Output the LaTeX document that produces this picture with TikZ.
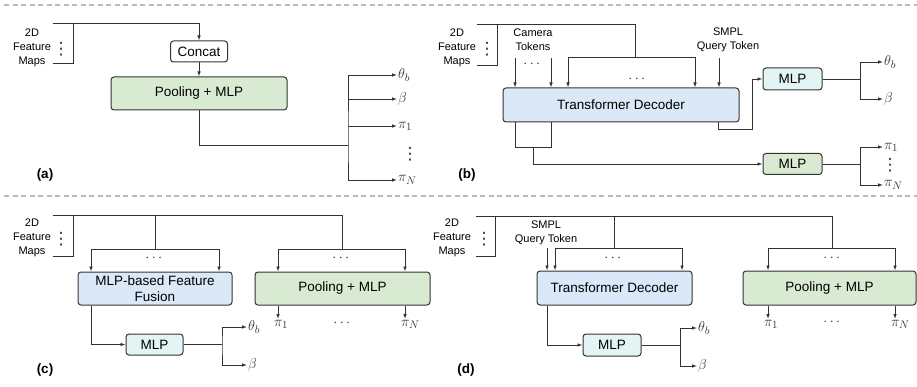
\documentclass[tikz,border=0pt]{standalone}
\usepackage{fontspec}
\setmainfont{Liberation Sans}
\newfontfamily\dotsfont{DejaVu Sans}
\usepackage{amsmath, amssymb}
\usetikzlibrary{arrows.meta,positioning}

\definecolor{linec}{HTML}{333333}
\definecolor{poolfill}{HTML}{D9EAD3}
\definecolor{decfill}{HTML}{DAE8F8}
\definecolor{mlpfill}{HTML}{E2F4F4}
\definecolor{sepc}{HTML}{BBBBBB}

\tikzset{
  wire/.style={draw=linec, line width=0.9pt},
  arr/.style={wire, -{Latex[length=5pt,width=3.6pt]}},
  arrtwo/.style={wire, {Latex[length=5pt,width=3.6pt]}-{Latex[length=5pt,width=3.6pt]}},
  blk/.style={draw=linec, line width=1pt, rounded corners=3pt, inner sep=0pt,
    align=center, font=\fontsize{13.5}{16}\selectfont},
  poolblk/.style={blk, fill=poolfill},
  decblk/.style={blk, fill=decfill},
  mlpblk/.style={blk, fill=mlpfill},
  small/.style={align=center, inner sep=0pt, font=\fontsize{11}{14}\selectfont},
  sym/.style={inner sep=1pt, font=\fontsize{15}{18}\selectfont, text=linec},
  hdot/.style={inner sep=0pt, font=\fontsize{14}{14}\selectfont, text=linec},
  vdot/.style={inner sep=0pt, font=\dotsfont\fontsize{17}{17}\selectfont, text=linec},
  tag/.style={inner sep=0pt, font=\fontsize{13.5}{16}\selectfont\bfseries},
  sep/.style={draw=sepc, line width=1.2pt, dash pattern=on 5pt off 3.5pt},
}

\begin{document}
\begin{tikzpicture}[x=1pt,y=-1pt]
    \useasboundingbox (0,0) rectangle (917,387);
    \draw[sep] (4,5) -- (917,5);
    \draw[sep] (4,196) -- (917,196);

    % (a) Concat + pooling
    % ---------------------
    \node[small] (fm-a) at (32,48) {2D\\Feature\\Maps};
    \node[vdot] at (61,49) {⋮};
    \coordinate (a-in) at (53,23);
    \coordinate (a-end) at (53,63);
    \draw[wire] (a-end) -- (73,63) -- (73,23);
    \node[blk, fill=white, minimum width=57, minimum height=21] (concat) at (199,51.5) {Concat};
    \node[poolblk, minimum width=176, minimum height=33] (pool-a) at (199,93.5) {Pooling + MLP};
    \draw[arr] (a-in) -| (concat);
    \draw[arr] (concat) -- (pool-a);
    \node[sym, anchor=west] (a-th) at (397,75) {$\theta_b$};
    \node[sym, anchor=west] (a-be) at (397,99) {$\beta$};
    \node[sym, anchor=west] (a-p1) at (397,126) {$\pi_1$};
    \node[vdot] at (410,154) {⋮};
    \node[sym, anchor=west] (a-pN) at (397,180) {$\pi_N$};
    \coordinate (a-split) at (348,145);
    \draw[wire] (pool-a) |- (a-split);
    \draw[arrtwo] (a-th) -| (a-split) |- (a-pN);
    \draw[arr] (a-split |- a-be) -- (a-be);
    \draw[arr] (a-split |- a-p1) -- (a-p1);
    \node[tag] at (45,175) {(a)};

    % (b) Transformer decoder with camera tokens
    % ---------------------
    \node[small] (fm-b) at (457,48) {2D\\Feature\\Maps};
    \node[vdot] at (487,49) {⋮};
    \coordinate (b-in) at (477,24);
    \coordinate (b-end) at (477,65);
    \draw[wire] (b-end) -- (497,65) -- (497,24);
    \node[decblk, minimum width=236, minimum height=34] (dec-b) at (621,105) {Transformer Decoder};
    \coordinate (b-m) at (635,57);
    \coordinate (b-l1) at (568,57);
    \coordinate (b-l2) at (695,57);
    \draw[wire] (b-in) -| (b-m);
    \draw[arrtwo] (b-l1 |- dec-b.north) -- (b-l1) -- (b-l2) -- (b-l2 |- dec-b.north);
    \node[hdot] at (638,79) {$\cdots$};
    \node[small] (cam-b) at (533,40) {Camera\\Tokens};
    \coordinate (b-c1) at (515,58);
    \coordinate (b-c2) at (551,58);
    \draw[arr] (b-c1) -- (b-c1 |- dec-b.north);
    \draw[arr] (b-c2) -- (b-c2 |- dec-b.north);
    \node[hdot] at (533,64) {$\cdots$};
    \node[small] (smpl-b) at (728,40) {SMPL\\Query Token};
    \coordinate (b-q) at (719,58);
    \draw[arr] (b-q) -- (b-q |- dec-b.north);
    % outputs
    \node[mlpblk, minimum width=59, minimum height=22] (mlp-b1) at (792.5,79) {MLP};
    \node[poolblk, minimum width=59, minimum height=21] (mlp-b2) at (792.5,164) {MLP};
    \coordinate (b-o1) at (718,129);
    \coordinate (b-k) at (752,129);
    \draw[arr] (b-o1 |- dec-b.south) -- (b-o1) -- (b-k) |- (mlp-b1);
    \coordinate (b-j1) at (515,147);
    \coordinate (b-j2) at (551,147);
    \coordinate (b-j) at (533,147);
    \draw[wire] (b-j1 |- dec-b.south) -- (b-j1) -- (b-j2) -- (b-j2 |- dec-b.south);
    \draw[arr] (b-j) |- (mlp-b2);
    \node[sym, anchor=west] (b-th) at (883,62) {$\theta_b$};
    \node[sym, anchor=west] (b-be) at (883,99) {$\beta$};
    \node[sym, anchor=west] (b-p1) at (883,147) {$\pi_1$};
    \node[vdot] at (890,165) {⋮};
    \node[sym, anchor=west] (b-pN) at (883,185) {$\pi_N$};
    \coordinate (b-s1) at (860,79);
    \coordinate (b-s2) at (860,164);
    \draw[wire] (mlp-b1) -- (b-s1);
    \draw[wire] (mlp-b2) -- (b-s2);
    \draw[arrtwo] (b-th) -| (b-s1) |- (b-be);
    \draw[arrtwo] (b-p1) -| (b-s2) |- (b-pN);
    \node[tag] at (467,175) {(b)};

    % (c) MLP fusion + pooling
    % ---------------------
    \node[small] (fm-c) at (32,238) {2D\\Feature\\Maps};
    \node[vdot] at (61,239) {⋮};
    \coordinate (c-in) at (53,215);
    \coordinate (c-end) at (53,256);
    \draw[wire] (c-end) -- (73,256) -- (73,215);
    \node[decblk, minimum width=154, minimum height=33] (fus-c) at (155,288.5) {MLP-based Feature\\Fusion};
    \node[poolblk, minimum width=175, minimum height=33] (pool-c) at (342.5,288.5) {Pooling + MLP};
    \coordinate (c-m1) at (155,249);
    \coordinate (c-m2) at (342,249);
    \draw[wire] (c-in) -| (c-m2);
    \draw[wire] (c-in -| c-m1) -- (c-m1);
    \coordinate (c-l1) at (91,249);
    \coordinate (c-l2) at (219,249);
    \coordinate (c-r1) at (278,249);
    \coordinate (c-r2) at (405,249);
    \draw[arrtwo] (c-l1 |- fus-c.north) -- (c-l1) -- (c-l2) -- (c-l2 |- fus-c.north);
    \draw[arrtwo] (c-r1 |- pool-c.north) -- (c-r1) -- (c-r2) -- (c-r2 |- pool-c.north);
    \node[hdot] at (155,258) {$\cdots$};
    \node[hdot] at (342,258) {$\cdots$};
    \node[sym, anchor=north west] (c-p1) at (273,319) {$\pi_1$};
    \node[sym, anchor=north west] (c-pN) at (400,319) {$\pi_N$};
    \node[hdot] at (343,323) {$\cdots$};
    \draw[arr] (c-r1 |- pool-c.south) -- (c-r1 |- c-p1.north);
    \draw[arr] (c-r2 |- pool-c.south) -- (c-r2 |- c-pN.north);
    \node[mlpblk, minimum width=57, minimum height=21] (mlp-c) at (154.5,344.5) {MLP};
    \coordinate (c-o) at (91,344.5);
    \draw[arr] (c-o |- fus-c.south) -- (c-o) -- (mlp-c);
    \node[sym, anchor=west] (c-th) at (247,327) {$\theta_b$};
    \node[sym, anchor=west] (c-be) at (247,365) {$\beta$};
    \coordinate (c-s) at (222,344.5);
    \draw[wire] (mlp-c) -- (c-s);
    \draw[arrtwo] (c-th) -| (c-s) |- (c-be);
    \node[tag] at (45,370) {(c)};

    % (d) Transformer decoder + pooling
    % ---------------------
    \node[small] (fm-d) at (452,238) {2D\\Feature\\Maps};
    \node[vdot] at (484,239) {⋮};
    \coordinate (d-in) at (476,216);
    \coordinate (d-end) at (476,256);
    \draw[wire] (d-end) -- (495,256) -- (495,216);
    \node[decblk, minimum width=155, minimum height=34] (dec-d) at (614.5,288) {Transformer Decoder};
    \node[poolblk, minimum width=173, minimum height=34] (pool-d) at (829.5,288) {Pooling + MLP};
    \coordinate (d-m1) at (614,248);
    \coordinate (d-m2) at (832,248);
    \draw[wire] (d-in) -| (d-m2);
    \draw[wire] (d-in -| d-m1) -- (d-m1);
    \coordinate (d-l1) at (555,248);
    \coordinate (d-l2) at (682,248);
    \coordinate (d-r1) at (768,248);
    \coordinate (d-r2) at (895,248);
    \draw[arrtwo] (d-l1 |- dec-d.north) -- (d-l1) -- (d-l2) -- (d-l2 |- dec-d.north);
    \draw[arrtwo] (d-r1 |- pool-d.north) -- (d-r1) -- (d-r2) -- (d-r2 |- pool-d.north);
    \node[hdot] at (614,258) {$\cdots$};
    \node[hdot] at (833,258) {$\cdots$};
    \node[small] (smpl-d) at (546,233) {SMPL\\Query Token};
    \coordinate (d-q) at (547,248);
    \draw[arr] (d-q) -- (d-q |- dec-d.north);
    \node[sym, anchor=north west] (d-p1) at (763,319) {$\pi_1$};
    \node[sym, anchor=north west] (d-pN) at (890,319) {$\pi_N$};
    \node[hdot] at (833,322) {$\cdots$};
    \draw[arr] (d-r1 |- pool-d.south) -- (d-r1 |- d-p1.north);
    \draw[arr] (d-r2 |- pool-d.south) -- (d-r2 |- d-pN.north);
    \node[mlpblk, minimum width=58, minimum height=22] (mlp-d) at (612,345) {MLP};
    \coordinate (d-o) at (547,345);
    \draw[arr] (d-o |- dec-d.south) -- (d-o) -- (mlp-d);
    \node[sym, anchor=west] (d-th) at (697,328) {$\theta_b$};
    \node[sym, anchor=west] (d-be) at (697,366) {$\beta$};
    \coordinate (d-s) at (680,345);
    \draw[wire] (mlp-d) -- (d-s);
    \draw[arrtwo] (d-th) -| (d-s) |- (d-be);
    \node[tag] at (466,370) {(d)};
  \end{tikzpicture}
\end{document}
